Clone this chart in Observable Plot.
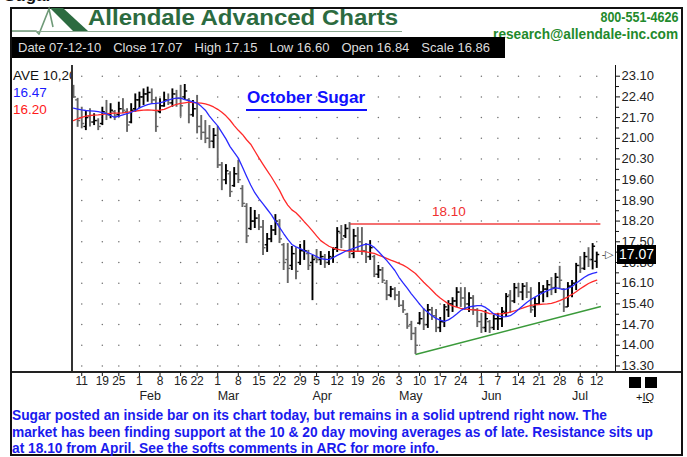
<!DOCTYPE html>
<html><head><meta charset="utf-8">
<script src="https://cdn.jsdelivr.net/npm/d3@7"></script>
<script src="https://cdn.jsdelivr.net/npm/@observablehq/plot@0.6"></script>
<style>
html,body{margin:0;padding:0;background:#fff;}
body{width:687px;height:457px;overflow:hidden;position:relative;font-family:"Liberation Sans",Arial,sans-serif;}
.abs{position:absolute;white-space:nowrap;}
#frame{left:10px;top:7px;width:673px;height:449px;border:2px solid #111;box-sizing:border-box;}
#topcut{left:4px;top:-14px;font:bold 17px "Liberation Sans",Arial,sans-serif;color:#111;}
#title{left:88px;top:5px;font:bold 22px "Liberation Sans",Arial,sans-serif;color:#2c6b40;}
#uline{left:12px;top:31px;width:390px;height:1px;background:#8aa890;}
#phone{right:9px;top:8px;font:bold 15px "Liberation Sans",Arial,sans-serif;color:#1f8a2c;}
#email{right:9px;top:25px;font:bold 15px "Liberation Sans",Arial,sans-serif;color:#1f8a2c;}
#bar{left:12px;top:37px;width:493px;height:21px;background:#000;color:#dcdcdc;font:13px "Liberation Sans",Arial,sans-serif;line-height:21px;}
#bar span{margin-left:6px;margin-right:6px;}
#ave{left:13px;top:68px;width:58px;overflow:hidden;font:13.5px "Liberation Sans",Arial,sans-serif;line-height:16.8px;}
#vleft{left:71px;top:65px;width:2px;height:308px;background:#333;}
#vaxis{left:615px;top:65px;width:1px;height:308px;background:#111;}
#hline{left:12px;top:371px;width:669px;height:2px;background:#222;}
#otitle{left:246px;top:88px;font:bold 17px "Liberation Sans",Arial,sans-serif;color:#1010ff;border-bottom:2px solid #1010ff;padding:0 2px 1px 1px;}
#sq1{left:629px;top:377px;width:12px;height:11px;background:#000;}
#sq2{left:645px;top:377px;width:12px;height:11px;background:#000;}
#iq{left:636px;top:391px;font:11px "Liberation Sans",Arial,sans-serif;color:#111;}
#caption{left:12px;top:407px;font:bold 14.5px "Liberation Sans",Arial,sans-serif;color:#1a1aee;line-height:16.5px;}
#chart{left:0;top:60px;}
#pricebox{left:617px;width:39px;height:19px;background:#000;color:#fff;font:14px "Liberation Sans",Arial,sans-serif;line-height:19px;text-align:center;z-index:5;}
</style></head><body>
<div id="frame" class="abs"></div>
<div id="topcut" class="abs">Sugar</div>
<svg class="abs" style="left:12px;top:4px" width="78" height="31">
  <polyline points="0,27 24,27 27,30 37,5 41,23" fill="none" stroke="#6f9a78" stroke-width="1.6"/>
  <polygon points="38,4 51,4 76,27 61,27" fill="#2c6b40"/>
</svg>
<div id="title" class="abs">Allendale Advanced Charts</div>
<div id="uline" class="abs"></div>
<div id="phone" class="abs">800-551-4626</div>
<div id="email" class="abs">research@allendale-inc.com</div>
<div id="bar" class="abs"></div>
<div id="chart" class="abs"></div>
<div id="vleft" class="abs"></div>
<div id="vaxis" class="abs"></div>
<div id="hline" class="abs"></div>
<div id="ave" class="abs"></div>
<div id="otitle" class="abs">October Sugar</div>
<div id="pricebox" class="abs"></div>
<div id="sq1" class="abs"></div><div id="sq2" class="abs"></div>
<div id="iq" class="abs">+<u>IQ</u></div>
<div id="caption" class="abs"><span id="cap1">Sugar posted an inside bar on its chart today, but remains in a solid uptrend right now. The</span><br>market has been finding support at the 10 &amp; 20 day moving averages as of late. Resistance sits up<br>at 18.10 from April. See the softs comments in ARC for more info.</div>
<script>
const dates = ["01-07","01-08","01-11","01-12","01-13","01-14","01-15","01-19","01-20","01-21","01-22","01-25","01-26","01-27","01-28","01-29",
"02-01","02-02","02-03","02-04","02-05","02-08","02-09","02-10","02-11","02-12","02-16","02-17","02-18","02-19","02-22","02-23","02-24","02-25","02-26",
"03-01","03-02","03-03","03-04","03-05","03-08","03-09","03-10","03-11","03-12","03-15","03-16","03-17","03-18","03-19","03-22","03-23","03-24","03-25","03-26","03-29","03-30","03-31",
"04-01","04-05","04-06","04-07","04-08","04-09","04-12","04-13","04-14","04-15","04-16","04-19","04-20","04-21","04-22","04-23","04-26","04-27","04-28","04-29","04-30",
"05-03","05-04","05-05","05-06","05-07","05-10","05-11","05-12","05-13","05-14","05-17","05-18","05-19","05-20","05-21","05-24","05-25","05-26","05-27","05-28",
"06-01","06-02","06-03","06-04","06-07","06-08","06-09","06-10","06-11","06-14","06-15","06-16","06-17","06-18","06-21","06-22","06-23","06-24","06-25","06-28","06-29","06-30",
"07-01","07-02","07-06","07-07","07-08","07-09","07-12"];
const opens = [22.60,22.30,21.70,21.40,21.75,21.55,21.60,21.50,21.85,21.80,21.90,21.80,22.00,21.90,21.55,22.00,22.30,22.40,22.50,22.55,
22.30,21.90,22.10,22.30,22.20,22.50,22.35,22.40,22.30,21.80,22.00,21.40,21.20,21.00,20.90,21.10,20.10,19.60,19.80,19.40,
19.80,19.30,18.70,17.95,18.20,18.30,18.00,17.40,17.60,17.90,18.10,17.40,16.90,16.70,17.10,16.80,17.20,17.10,16.80,16.95,
16.90,17.00,16.80,16.95,17.30,17.80,17.70,17.95,17.10,17.70,17.50,17.20,17.00,17.00,16.40,16.55,16.10,15.70,15.90,15.70,
15.35,15.05,14.70,14.40,14.75,14.90,14.70,15.20,15.00,14.60,14.80,15.20,15.40,15.50,15.80,15.60,15.40,15.60,15.20,14.80,
14.60,14.80,14.60,14.90,14.90,15.10,15.70,15.50,15.95,15.80,16.00,15.80,15.30,15.40,15.80,15.90,16.05,15.95,16.30,15.90,
15.30,16.00,16.10,16.70,16.60,17.00,16.90,16.84];
const highs = [22.79,22.35,22.05,21.94,22.00,21.83,21.66,22.05,22.28,22.17,21.94,22.22,22.34,22.00,22.17,22.50,22.56,22.67,22.73,22.67,
22.39,22.34,22.56,22.50,22.67,22.62,22.79,22.82,22.34,22.28,22.45,21.77,21.60,21.43,21.33,21.40,20.18,20.11,19.87,20.01,
20.25,19.40,18.79,18.66,18.56,18.42,18.22,17.78,18.05,18.42,18.25,17.44,17.44,17.34,17.30,17.41,17.54,17.21,17.04,17.24,
17.17,17.07,17.17,17.30,17.98,18.05,18.08,18.15,17.92,17.98,17.98,17.44,17.54,17.04,16.70,16.63,16.19,15.99,15.95,15.82,
15.51,15.08,14.81,14.60,15.11,15.24,15.38,15.28,15.21,14.94,15.38,15.51,15.61,15.95,15.95,15.95,15.78,15.68,15.24,15.08,
15.18,14.84,15.01,15.08,15.28,15.75,15.85,16.09,16.09,16.09,16.12,15.95,15.61,16.12,16.02,16.19,16.29,16.43,16.67,15.92,
16.12,16.19,16.77,17.00,17.14,17.30,17.44,17.15];
const lows = [22.35,21.37,21.32,21.26,21.38,21.43,21.26,21.43,21.60,21.66,21.60,21.71,21.83,21.20,21.49,21.88,22.00,22.11,22.22,22.17,
21.20,21.83,22.05,22.11,22.05,22.05,21.71,22.28,21.49,21.71,21.15,20.93,20.82,20.65,20.65,19.98,19.23,19.43,19.00,19.34,
19.47,18.66,17.44,17.88,17.95,17.88,17.04,17.14,17.47,17.71,17.44,16.53,16.09,16.53,16.22,16.70,16.87,16.53,15.51,16.77,
16.70,16.60,16.70,16.77,17.14,17.27,17.61,16.93,16.93,17.14,17.04,16.77,16.87,16.29,16.26,16.09,15.51,15.61,15.51,15.28,
15.08,14.54,14.16,13.69,14.70,14.50,14.57,14.84,14.43,14.43,14.60,14.94,15.11,15.28,15.28,15.18,15.11,15.01,14.60,14.40,
14.43,14.40,14.50,14.50,14.60,14.94,15.08,15.41,15.61,15.51,15.58,15.08,14.94,15.35,15.44,15.61,15.68,15.75,15.92,15.11,
15.28,15.61,15.85,16.43,16.53,16.63,16.55,16.60];
const closes = [22.40,21.60,21.50,21.70,21.55,21.60,21.40,21.90,21.80,21.95,21.75,22.00,21.95,21.45,21.95,22.30,22.40,22.50,22.55,22.30,
21.40,22.10,22.30,22.20,22.50,22.35,22.10,22.60,21.80,22.00,21.40,21.20,21.00,20.90,21.10,20.10,19.60,19.90,19.20,19.80,
19.60,18.80,17.70,18.20,18.30,18.00,17.30,17.60,17.90,18.20,17.60,16.80,16.60,17.10,16.50,17.20,17.20,16.70,16.90,16.90,
17.00,16.80,17.00,17.25,17.85,17.60,17.95,17.20,17.70,17.50,17.20,17.00,17.30,16.40,16.55,16.20,15.70,15.90,15.70,15.35,
15.20,14.65,14.40,14.00,14.90,14.70,15.20,15.00,14.60,14.80,15.30,15.40,15.50,15.80,15.60,15.40,15.60,15.20,14.80,14.60,
14.90,14.60,14.90,14.90,15.15,15.65,15.50,15.95,15.80,16.00,15.80,15.20,15.40,15.80,15.90,16.05,15.95,16.30,16.20,15.30,
16.00,16.10,16.70,16.60,17.00,16.90,17.35,17.07];
const ma10 = [22.02,21.99,21.96,21.94,21.93,21.92,21.90,21.87,21.83,21.77,21.71,21.75,21.79,21.83,21.88,21.94,22.03,22.09,22.14,22.17,
22.18,22.20,22.24,22.29,22.33,22.36,22.36,22.31,22.27,22.23,22.19,22.08,21.95,21.75,21.58,21.42,21.20,20.98,20.72,20.52,
20.33,20.03,19.72,19.42,19.16,18.96,18.78,18.60,18.42,18.20,17.99,17.78,17.58,17.41,17.33,17.27,17.20,17.13,17.07,17.00,
16.93,16.91,16.90,16.96,17.04,17.11,17.18,17.23,17.28,17.33,17.38,17.42,17.40,17.31,17.17,17.02,16.87,16.70,16.53,16.30,
16.11,15.93,15.74,15.57,15.39,15.23,15.12,15.00,14.91,14.85,14.81,14.86,14.95,15.06,15.18,15.25,15.30,15.32,15.34,15.34,
15.28,15.18,15.06,15.00,14.96,14.97,15.00,15.09,15.21,15.33,15.45,15.55,15.63,15.71,15.78,15.85,15.90,15.94,15.92,15.88,
15.92,15.99,16.10,16.20,16.30,16.38,16.43,16.47];
const ma20 = [21.60,21.66,21.71,21.75,21.77,21.78,21.79,21.81,21.83,21.84,21.85,21.85,21.86,21.88,21.90,21.92,21.94,21.95,21.96,21.95,
21.94,21.95,21.98,22.04,22.10,22.15,22.18,22.20,22.22,22.21,22.20,22.19,22.16,22.12,22.06,21.98,21.88,21.76,21.61,21.43,
21.27,21.13,20.95,20.80,20.57,20.34,20.12,19.91,19.70,19.47,19.24,18.96,18.74,18.58,18.48,18.34,18.18,18.03,17.87,17.70,
17.54,17.44,17.35,17.29,17.25,17.22,17.20,17.18,17.18,17.18,17.18,17.16,17.13,17.11,17.05,17.00,16.94,16.88,16.83,16.77,
16.71,16.63,16.53,16.43,16.28,16.13,16.00,15.86,15.72,15.60,15.50,15.40,15.33,15.29,15.25,15.23,15.21,15.20,15.19,15.17,
15.12,15.07,15.06,15.06,15.06,15.09,15.12,15.16,15.21,15.26,15.31,15.35,15.37,15.38,15.39,15.40,15.42,15.46,15.51,15.57,
15.64,15.72,15.81,15.91,16.00,16.09,16.15,16.20];
const tickDates = ["01-11","01-19","01-25","02-01","02-08","02-16","02-22","03-01","03-08","03-15","03-22","03-29","04-05","04-12","04-19","04-26","05-03","05-10","05-17","05-24","06-01","06-07","06-14","06-21","06-28","07-06","07-12"];
const monthLabels = ["Feb","Mar","Apr","May","Jun","Jul"];
const monthStarts = ["02-01","03-01","04-01","05-03","06-01","07-01"];
const yTicks = [13.30,14.00,14.70,15.40,16.10,16.80,17.50,18.20,18.90,19.60,20.30,21.00,21.70,22.40,23.10];
const yMinor = [13.65,14.35,15.05,15.75,16.45,17.15,17.85,18.55,19.25,19.95,20.65,21.35,22.05,22.75];
const resistanceLevel = 18.10, resistanceFrom = "04-15", resistanceLabelAt = "05-13";
const trendFrom = "05-07", trendValues = [13.69, 15.31];
const scaleValue = "16.86", dateLabel = "07-12-10";

const idx = d => dates.indexOf(d);
const bars = dates.map((d, i) => ({i, date: d, open: opens[i], high: highs[i], low: lows[i], close: closes[i], ma10: ma10[i], ma20: ma20[i]}));
const n = bars.length, last = bars[n - 1];
const tickIdx = tickDates.map(idx);
const grid = tickIdx.flatMap(x => yTicks.map(y => ({x, y})));
const colorOf = d => d.close >= d.open ? "#000" : "#666";

document.getElementById("bar").innerHTML =
  `<span>Date ${dateLabel}</span><span>Close ${last.close.toFixed(2)}</span><span>High ${last.high.toFixed(2)}</span><span>Low ${last.low.toFixed(2)}</span><span>Open ${last.open.toFixed(2)}</span><span>Scale ${scaleValue}</span>`;
document.getElementById("ave").innerHTML =
  `<div style="color:#111">AVE 10,20</div><div style="color:#1a1aff">${last.ma10.toFixed(2)}</div><div style="color:#ff1a1a">${last.ma20.toFixed(2)}</div>`;

const chart = Plot.plot({
  width: 687, height: 350,
  marginLeft: 72, marginRight: 72, marginTop: 2, marginBottom: 38,
  x: {domain: [-0.243, 131.55], axis: null},
  y: {domain: [13.08, 23.563], axis: null},
  style: {fontFamily: "Liberation Sans, Arial, sans-serif", fontSize: "12px", color: "#222", background: "transparent", overflow: "visible"},
  marks: [
    Plot.dot(grid, {x: "x", y: "y", r: 0.75, fill: "#707070", stroke: null}),
    Plot.ruleY([resistanceLevel], {x1: idx(resistanceFrom), x2: n, stroke: "#f04040", strokeWidth: 1.6}),
    Plot.text([resistanceLevel], {x: idx(resistanceLabelAt), y: d => d, dy: -12, textAnchor: "start", text: d => d.toFixed(2), fill: "#f03030", fontSize: 13.5}),
    Plot.link([0], {x1: idx(trendFrom), y1: trendValues[0], x2: n, y2: trendValues[1], stroke: "#3a9a3a", strokeWidth: 1.5}),
    Plot.ruleX(bars, {x: "i", y1: "low", y2: "high", stroke: colorOf, strokeWidth: 1.9}),
    Plot.link(bars, {x1: d => d.i - 0.6, x2: "i", y1: "open", y2: "open", stroke: colorOf, strokeWidth: 1.4}),
    Plot.link(bars, {x1: "i", x2: d => d.i + 0.6, y1: "close", y2: "close", stroke: colorOf, strokeWidth: 1.4}),
    Plot.line(bars, {x: "i", y: "ma20", stroke: "#ff2a2a", strokeWidth: 1.3}),
    Plot.line(bars, {x: "i", y: "ma10", stroke: "#2a2aff", strokeWidth: 1.3}),
    Plot.axisY(yMinor, {anchor: "right", tickSize: 3, tickFormat: () => "", stroke: "#111"}),
    Plot.axisY(yTicks, {anchor: "right", tickSize: 4, tickPadding: 2, tickFormat: d => d.toFixed(2), fontSize: 13, fill: "#222", stroke: "#111"}),
    Plot.axisX(tickIdx, {anchor: "bottom", tickSize: 4, tickPadding: 0, tickFormat: i => String(+dates[i].slice(3)), fontSize: 12, fill: "#222", stroke: "#111"}),
    Plot.text(monthStarts, {x: idx, frameAnchor: "bottom", dy: 27, textAnchor: "start", text: (d, i) => monthLabels[i], fontSize: 12.5, fill: "#222"}),
    Plot.text([last.close], {x: n + 1.6, y: d => d, text: () => "-▷", fontSize: 11, fill: "#444"})
  ]
});
document.getElementById("chart").appendChild(chart);
const yPix = chart.scale("y").apply(last.close);
const pb = document.getElementById("pricebox");
pb.style.top = (60 + yPix - 9.5) + "px";
pb.textContent = last.close.toFixed(2);

function fit(el, target) {
  const w = el.getBoundingClientRect().width;
  return target / w;
}
const cap = document.getElementById("caption");
const s1 = fit(document.getElementById("cap1"), 595);
cap.style.transformOrigin = "left top"; cap.style.transform = `scaleX(${s1})`;
const ph = document.getElementById("phone");
ph.style.transformOrigin = "right top"; ph.style.transform = `scaleX(${fit(ph, 78)})`;
const em = document.getElementById("email");
em.style.transformOrigin = "right top"; em.style.transform = `scaleX(${fit(em, 185)})`;
const tt = document.getElementById("title");
tt.style.transformOrigin = "left top"; tt.style.transform = `scaleX(${fit(tt, 310)})`;
</script>
</body></html>
